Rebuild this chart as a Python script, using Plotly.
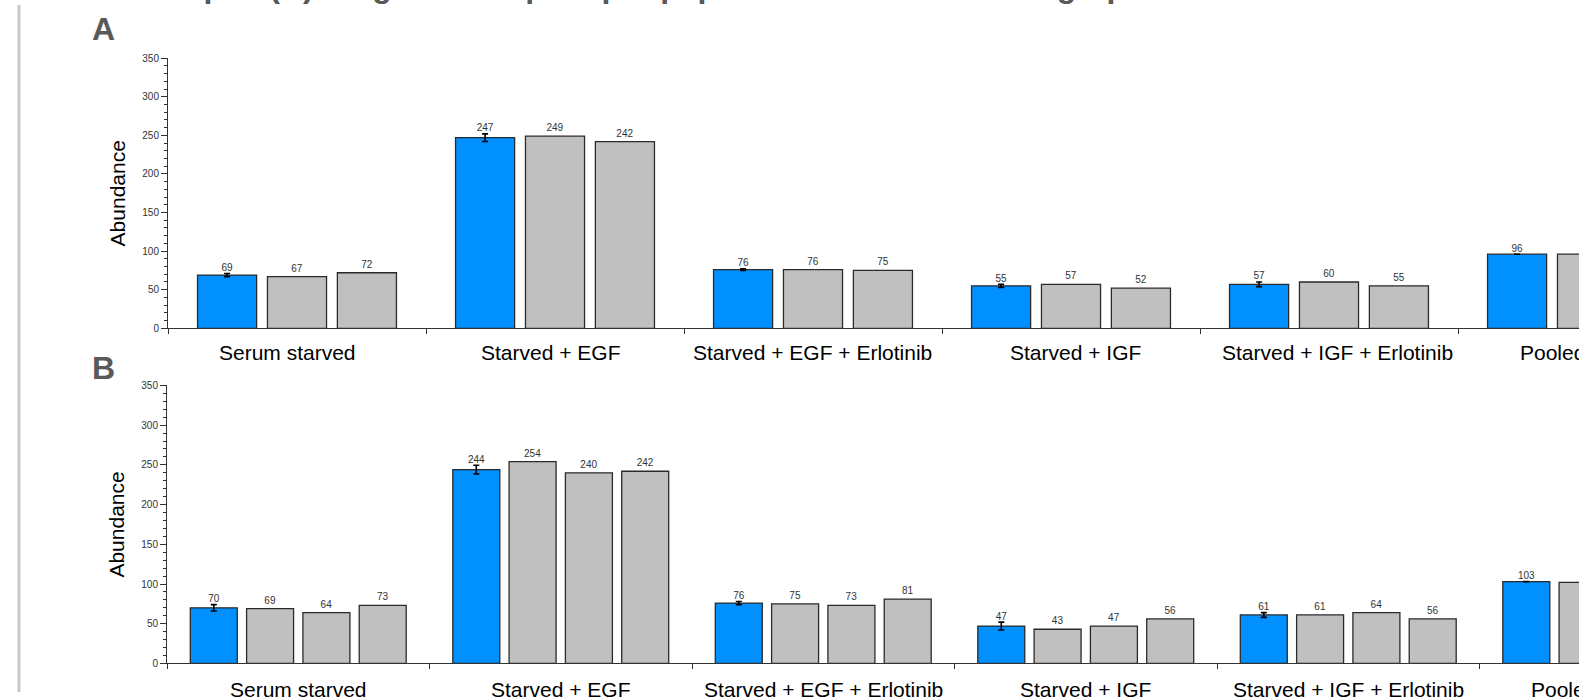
import plotly.graph_objects as go

# ---------------- data ----------------
groups = ["Serum starved", "Starved + EGF", "Starved + EGF + Erlotinib",
          "Starved + IGF", "Starved + IGF + Erlotinib", "Pooled reference"]

# Panel A: mean (blue, with error) + two replicates (gray)
a_mean = [69, 247, 76, 55, 57, 96]
a_err = [2, 5, 1, 2, 3, 0]
a_rep1 = [67, 249, 76, 57, 60, 96]
a_rep2 = [72, 242, 75, 52, 55, None]

# Panel B: mean (blue, with error) + three replicates (gray)
b_mean = [70, 244, 76, 47, 61, 103]
b_err = [4, 5.5, 2, 5, 3, 0]
b_rep1 = [69, 254, 75, 43, 61, 102]
b_rep2 = [64, 240, 73, 47, 64, None]
b_rep3 = [73, 242, 81, 56, 56, None]

y_ticks = [0, 50, 100, 150, 200, 250, 300, 350]
title_text = "Example: (A) Single EGFR phosphopeptide abundance in bar graph"

# ---------------- style ----------------
W, H = 1579, 697
BLUE = "#0090FF"
GRAY = "#C0C0C0"
FONT = "Liberation Sans, Arial, sans-serif"
AX = "#333333"

fig = go.Figure()

# x ranges (category index units) for each panel
RANGE_A = [-0.5, -0.5 + (W - 168) / 258]
RANGE_B = [-0.5, -0.5 + (W - 167) / 262.5]


def add_panel(series, err, xa, ya, slot, width):
    n = len(series)
    idx = list(range(len(groups)))
    for j, vals in enumerate(series):
        xs = [i + (j - (n - 1) / 2) * slot for i in idx]
        keep = [k for k in idx if vals[k] is not None]
        xv = [xs[k] for k in keep]
        yv = [vals[k] for k in keep]
        kw = {}
        if j == 0:
            kw["error_y"] = dict(type="data", array=[err[k] for k in keep],
                                 visible=True, color="#000000", thickness=1.6, width=3)
        fig.add_trace(go.Bar(
            x=xv, y=yv, width=width, xaxis=xa, yaxis=ya,
            marker=dict(color=BLUE if j == 0 else GRAY,
                        line=dict(color="#2a2a2a", width=1.3)),
            text=None if j == 0 else [str(v) for v in yv],
            textposition="outside",
            textfont=dict(family=FONT, size=10, color="#333333"),
            constraintext="none", cliponaxis=False,
            showlegend=False, hoverinfo="skip", **kw))
        if j == 0:
            # value labels of the mean bars sit above their error bars
            fig.add_trace(go.Scatter(
                x=xv, y=[v + e for v, e in zip(yv, [err[k] for k in keep])],
                text=[str(v) for v in yv], mode="text", textposition="top center",
                textfont=dict(family=FONT, size=10, color="#333333"),
                xaxis=xa, yaxis=ya, showlegend=False, hoverinfo="skip"))


add_panel([a_mean, a_rep1, a_rep2], a_err, "x", "y", 0.271, 0.229)
add_panel([b_mean, b_rep1, b_rep2, b_rep3], b_err, "x2", "y2", 0.2145, 0.179)

yax = dict(range=[0, 350], tickvals=y_ticks, showline=True, linecolor=AX, linewidth=1,
           ticks="outside", ticklen=6, tickcolor=AX, tickwidth=1,
           minor=dict(dtick=10, ticks="outside", ticklen=3, tickcolor=AX, tickwidth=1),
           tickfont=dict(family=FONT, size=10, color="#333333"),
           showgrid=False, zeroline=False,
           title=dict(text="Abundance", font=dict(family=FONT, size=21, color="#000000"),
                      standoff=10))
xax = dict(showline=True, linecolor=AX, linewidth=1, ticks="outside", ticklen=5,
           tickcolor=AX, tickvals=[k - 0.5 for k in range(len(groups) + 1)],
           showticklabels=False, showgrid=False, zeroline=False)

fig.update_layout(
    width=W, height=H, margin=dict(l=0, r=0, t=0, b=0),
    paper_bgcolor="white", plot_bgcolor="white", barmode="overlay",
    xaxis=dict(xax, domain=[168 / W, 1], range=RANGE_A, anchor="y"),
    yaxis=dict(yax, domain=[1 - 328 / H, 1 - 54 / H], anchor="x"),
    xaxis2=dict(xax, domain=[167 / W, 1], range=RANGE_B, anchor="y2"),
    yaxis2=dict(yax, domain=[1 - 668 / H, 1 - 386 / H], anchor="x2"),
    font=dict(family=FONT),
)

# category labels under each panel; both rows follow the lower panel's group
# centres (the upper row sits slightly to the left, as in the original)
for ya, ypos, dx in (("y", -0.091, -10.5), ("y2", -0.094, 0)):
    for i, g in enumerate(groups):
        fig.add_annotation(text=g, xref="x2 domain", yref=ya + " domain",
                           x=(i - RANGE_B[0]) / (RANGE_B[1] - RANGE_B[0]), y=ypos,
                           xshift=dx, xanchor="center", yanchor="middle", showarrow=False,
                           font=dict(family=FONT, size=21, color="#000000"))

# panel letters and (cropped) title
for letter, ytop in (("A", 4), ("B", 348)):
    fig.add_annotation(text="<b>%s</b>" % letter, xref="paper", yref="paper",
                       x=90 / W, y=1 - ytop / H, xanchor="left", yanchor="top",
                       showarrow=False, font=dict(family=FONT, size=32, color="#595959"))
fig.add_annotation(text="<b>%s</b>" % title_text, xref="paper", yref="paper",
                   x=116 / W, y=1, xanchor="left", yanchor="bottom", yshift=-1,
                   showarrow=False, font=dict(family=FONT, size=32, color="#595959"))

# gray frame line at the left edge
fig.add_shape(type="line", xref="paper", yref="paper", x0=19 / W, x1=19 / W, y0=0, y1=1,
              line=dict(color="#C8C8C8", width=3))

fig.write_html("out.html", config={"displayModeBar": False},
               post_script="document.body.style.margin='0px';"
                           "document.body.style.overflow='hidden';")
